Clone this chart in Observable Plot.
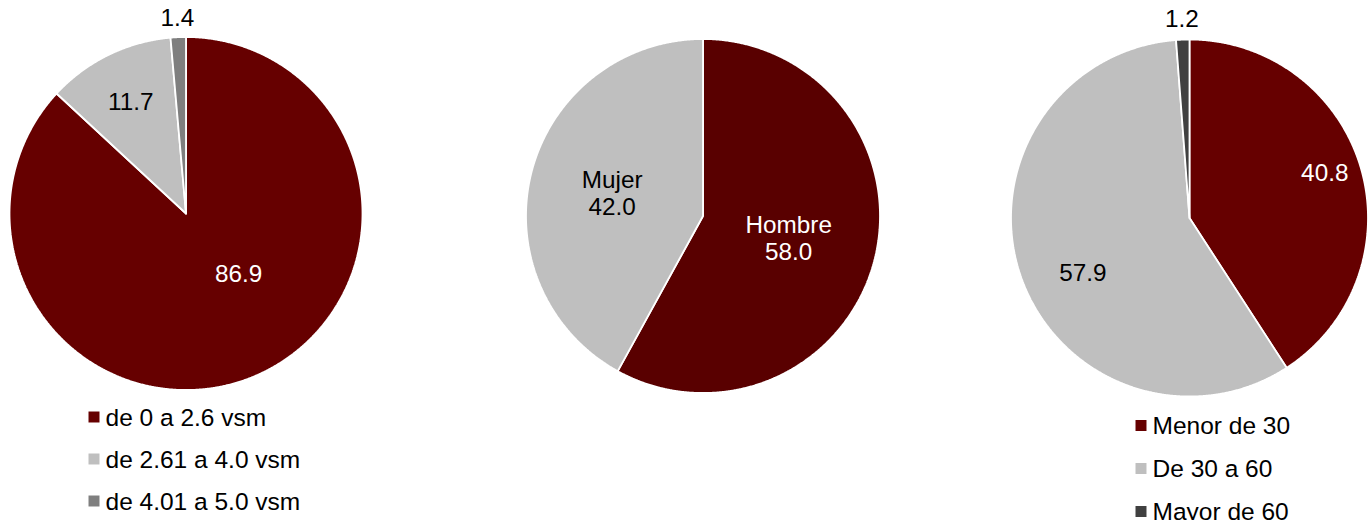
<!DOCTYPE html>
<html>
<head>
<meta charset="utf-8">
<script src="https://cdn.jsdelivr.net/npm/d3@7"></script>
<script src="https://cdn.jsdelivr.net/npm/@observablehq/plot@0.6"></script>
<style>
  html, body { margin: 0; padding: 0; background: #fff; }
  #chart { width: 1372px; height: 520px; overflow: hidden; }
  svg { font-family: "Liberation Sans", Arial, sans-serif; }
</style>
</head>
<body>
<div id="chart"></div>
<script>
// ---------- DATA ----------
const salaryCategories = ["de 0 a 2.6 vsm", "de 2.61 a 4.0 vsm", "de 4.01 a 5.0 vsm"];
const salaryValues = [86.9, 11.7, 1.4];

const sexCategories = ["Hombre", "Mujer"];
const sexValues = [58.0, 42.0];

const ageCategories = ["Menor de 30", "De 30 a 60", "Mayor de 60"];
const ageValues = [40.8, 57.9, 1.2];

// ---------- STYLE / LAYOUT ----------
const W = 1372, H = 520;
const pies = [
  {
    cats: salaryCategories, vals: salaryValues,
    colors: ["#660000", "#bfbfbf", "#7f7f7f"],
    textColors: ["#ffffff", "#000000", "#000000"],
    showName: false,
    cx: 185.5, cy: 213, r: 176.5,
    // label placement: [angle override in degrees or null = mid-angle, radius fraction]
    labelPlace: [[138.6, 0.45], [null, 0.71], [null, 1.11]],
    legend: { x: 93.5, y: 416.5, step: 42 }
  },
  {
    cats: sexCategories, vals: sexValues,
    colors: ["#590000", "#bfbfbf"],
    textColors: ["#ffffff", "#000000"],
    showName: true,
    cx: 702.5, cy: 215.5, r: 177,
    labelPlace: [[null, 0.5], [null, 0.53]],
    legend: null
  },
  {
    cats: ageCategories, vals: ageValues,
    colors: ["#660000", "#bfbfbf", "#404040"],
    textColors: ["#ffffff", "#000000", "#000000"],
    showName: false,
    cx: 1189, cy: 217.5, r: 178.5,
    labelPlace: [[71.3, 0.8], [243, 0.67], [null, 1.12]],
    legend: { x: 1140.5, y: 425, step: 43 }
  }
];

// ---------- BUILD MARK DATA ----------
const slicePts = [];
const labels = [];
const legendRows = [];
pies.forEach((p, pi) => {
  const arcs = d3.pie().sort(null).value(d => d)(p.vals);
  arcs.forEach((a, i) => {
    const id = pi + "-" + i;
    const fill = p.colors[i];
    slicePts.push({ id, fill, x: p.cx, y: p.cy });
    const n = Math.max(2, Math.ceil((a.endAngle - a.startAngle) / 0.005) + 1);
    for (let k = 0; k < n; k++) {
      const t = a.startAngle + (a.endAngle - a.startAngle) * k / (n - 1);
      slicePts.push({ id, fill, x: p.cx + p.r * Math.sin(t), y: p.cy - p.r * Math.cos(t) });
    }
    slicePts.push({ id, fill, x: p.cx, y: p.cy });

    const [ov, rf] = p.labelPlace[i];
    const ang = ov == null ? (a.startAngle + a.endAngle) / 2 : ov * Math.PI / 180;
    const txt = p.vals[i].toFixed(1);
    labels.push({
      x: p.cx + rf * p.r * Math.sin(ang),
      y: p.cy - rf * p.r * Math.cos(ang),
      text: p.showName ? p.cats[i] + "\n" + txt : txt,
      color: p.textColors[i]
    });
  });
  if (p.legend) {
    p.cats.forEach((c, i) => {
      legendRows.push({
        x: p.legend.x, y: p.legend.y + i * p.legend.step,
        color: p.colors[i], text: c
      });
    });
  }
});

// ---------- PLOT ----------
const chart = Plot.plot({
  width: W, height: H,
  margin: 0,
  x: { domain: [0, W], range: [0, W], axis: null },
  y: { domain: [0, H], range: [0, H], axis: null },
  style: { fontFamily: '"Liberation Sans", Arial, sans-serif', background: "#ffffff" },
  marks: [
    Plot.line(slicePts, {
      x: "x", y: "y", z: "id",
      fill: d => d.fill,
      stroke: "#ffffff", strokeWidth: 1.8, strokeLinejoin: "miter"
    }),
    Plot.text(labels, {
      x: "x", y: "y", text: "text",
      fill: d => d.color,
      fontSize: 24.3, lineHeight: 1.12,
      textAnchor: "middle"
    }),
    Plot.dot(legendRows, {
      x: "x", y: "y", symbol: "square", r: 6.2,
      fill: d => d.color, stroke: "none"
    }),
    Plot.text(legendRows, {
      x: "x", y: "y", text: "text",
      dx: 11.5, dy: 1,
      textAnchor: "start", fill: "#000000", fontSize: 24.5
    })
  ]
});
document.getElementById("chart").appendChild(chart);
</script>
</body>
</html>
